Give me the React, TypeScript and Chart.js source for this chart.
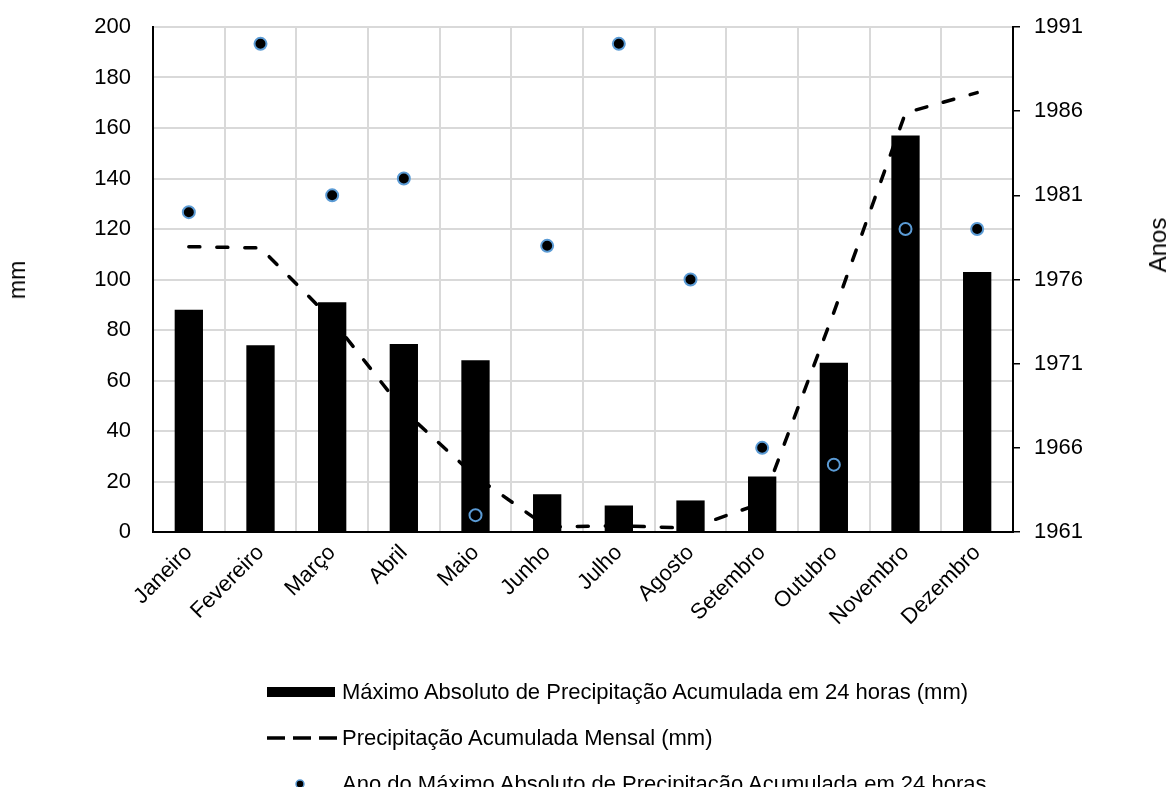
import React, { useEffect, useRef } from "react";
import { Chart, registerables } from "chart.js";

Chart.register(...registerables);

const months = ["Janeiro", "Fevereiro", "Março", "Abril", "Maio", "Junho", "Julho", "Agosto", "Setembro", "Outubro", "Novembro", "Dezembro"];
const max24h = [88, 74, 91, 74.5, 68, 15, 10.5, 12.5, 22, 67, 157, 103];
const monthly = [113, 112.5, 84, 48, 22, 2, 2.5, 1.5, 11.5, 87, 166, 174];
const yearOfMax = [1980, 1990, 1981, 1982, 1962, 1978, 1990, 1976, 1966, 1965, 1979, 1979];

const label1 = "Máximo Absoluto de Precipitação Acumulada em 24 horas (mm)";
const label2 = "Precipitação Acumulada Mensal (mm)";
const label3 = "Ano do Máximo Absoluto de Precipitação Acumulada em 24 horas";

const FONT = "'Liberation Sans', Arial, Helvetica, sans-serif";
const W = 1172;
const H = 787;

export default function App() {
  const ref = useRef<HTMLCanvasElement | null>(null);

  useEffect(() => {
    if (!ref.current) return;
    const chart = new Chart(ref.current, {
      type: "bar",
      data: {
        labels: months,
        datasets: [
          {
            type: "line",
            label: label3,
            data: yearOfMax,
            yAxisID: "y2",
            showLine: false,
            pointRadius: 6,
            pointBackgroundColor: "#000",
            pointBorderColor: "#5b9bd5",
            pointBorderWidth: 2,
            order: 0,
          } as any,
          {
            type: "line",
            label: label2,
            data: monthly,
            yAxisID: "y",
            borderColor: "#000",
            borderWidth: 3.5,
            borderDash: [11, 17],
            borderCapStyle: "round",
            pointRadius: 0,
            fill: false,
            tension: 0,
            order: 1,
          } as any,
          {
            type: "bar",
            label: label1,
            data: max24h,
            yAxisID: "y",
            backgroundColor: "#000",
            borderWidth: 0,
            categoryPercentage: 1,
            barPercentage: 0.395,
            order: 2,
          } as any,
        ],
      },
      options: {
        responsive: false,
        animation: false,
        devicePixelRatio: 1,
        layout: { padding: { top: 27, left: 0, right: 0, bottom: 0 } },
        plugins: { legend: { display: false }, tooltip: { enabled: false } },
        scales: {
          x: {
            grid: { color: "#d9d9d9", lineWidth: 2, offset: true, drawTicks: false },
            border: { color: "#000", width: 2 },
            ticks: {
              color: "#000",
              font: { family: FONT, size: 22 },
              minRotation: 45,
              maxRotation: 45,
              autoSkip: false,
              padding: 8,
            },
            afterFit: (s: any) => {
              s.height = H - 532;
              s.paddingLeft = 0;
              s.paddingRight = 0;
            },
          },
          y: {
            position: "left",
            min: 0,
            max: 200,
            grid: { color: "#d9d9d9", lineWidth: 2, drawTicks: false },
            border: { color: "#000", width: 2 },
            ticks: {
              stepSize: 20,
              color: "#000",
              font: { family: FONT, size: 22 },
              padding: 22,
            },
            afterFit: (s: any) => {
              s.width = 153;
              s.paddingTop = 0;
              s.paddingBottom = 0;
            },
          },
          y2: {
            position: "right",
            min: 1961,
            max: 1991,
            grid: { drawOnChartArea: false, color: "#000", tickLength: 7, lineWidth: 1.5 },
            border: { color: "#000", width: 2 },
            ticks: {
              stepSize: 5,
              color: "#000",
              font: { family: FONT, size: 22 },
              padding: 14,
              callback: (v: any) => String(v),
            },
            afterFit: (s: any) => {
              s.width = W - 1013;
              s.paddingTop = 0;
              s.paddingBottom = 0;
            },
          },
        },
      },
    });
    return () => chart.destroy();
  }, []);

  const textStyle: React.CSSProperties = {
    position: "absolute",
    fontFamily: FONT,
    fontSize: 22,
    lineHeight: "26px",
    color: "#000",
    whiteSpace: "nowrap",
  };

  return (
    <div style={{ position: "absolute", left: 0, top: 0, width: W, height: H, overflow: "hidden", background: "#fff" }}>
      <canvas ref={ref} width={W} height={H} style={{ position: "absolute", left: 0, top: 0, width: W, height: H }} />
      <div style={{ ...textStyle, fontSize: 23, left: 17, top: 280, transform: "translate(-50%, -50%) rotate(-90deg)" }}>mm</div>
      <div style={{ ...textStyle, fontSize: 24, left: 1158, top: 245, transform: "translate(-50%, -50%) rotate(-90deg)" }}>Anos</div>

      <div style={{ position: "absolute", left: 267, top: 687, width: 68, height: 10, background: "#000" }} />
      <div style={{ ...textStyle, left: 342, top: 692 - 13 }}>{label1}</div>

      <svg style={{ position: "absolute", left: 260, top: 730 }} width={90} height={16}>
        <line x1={267 - 260} y1={8} x2={337 - 260} y2={8} stroke="#000" strokeWidth={3.5} strokeDasharray="18 8" />
      </svg>
      <div style={{ ...textStyle, left: 342, top: 738 - 13 }}>{label2}</div>

      <svg style={{ position: "absolute", left: 290, top: 774 }} width={20} height={20}>
        <circle cx={10} cy={10} r={4} fill="#000" stroke="#5b9bd5" strokeWidth={1.5} />
      </svg>
      <div style={{ ...textStyle, left: 342, top: 784 - 13 }}>{label3}</div>
    </div>
  );
}
